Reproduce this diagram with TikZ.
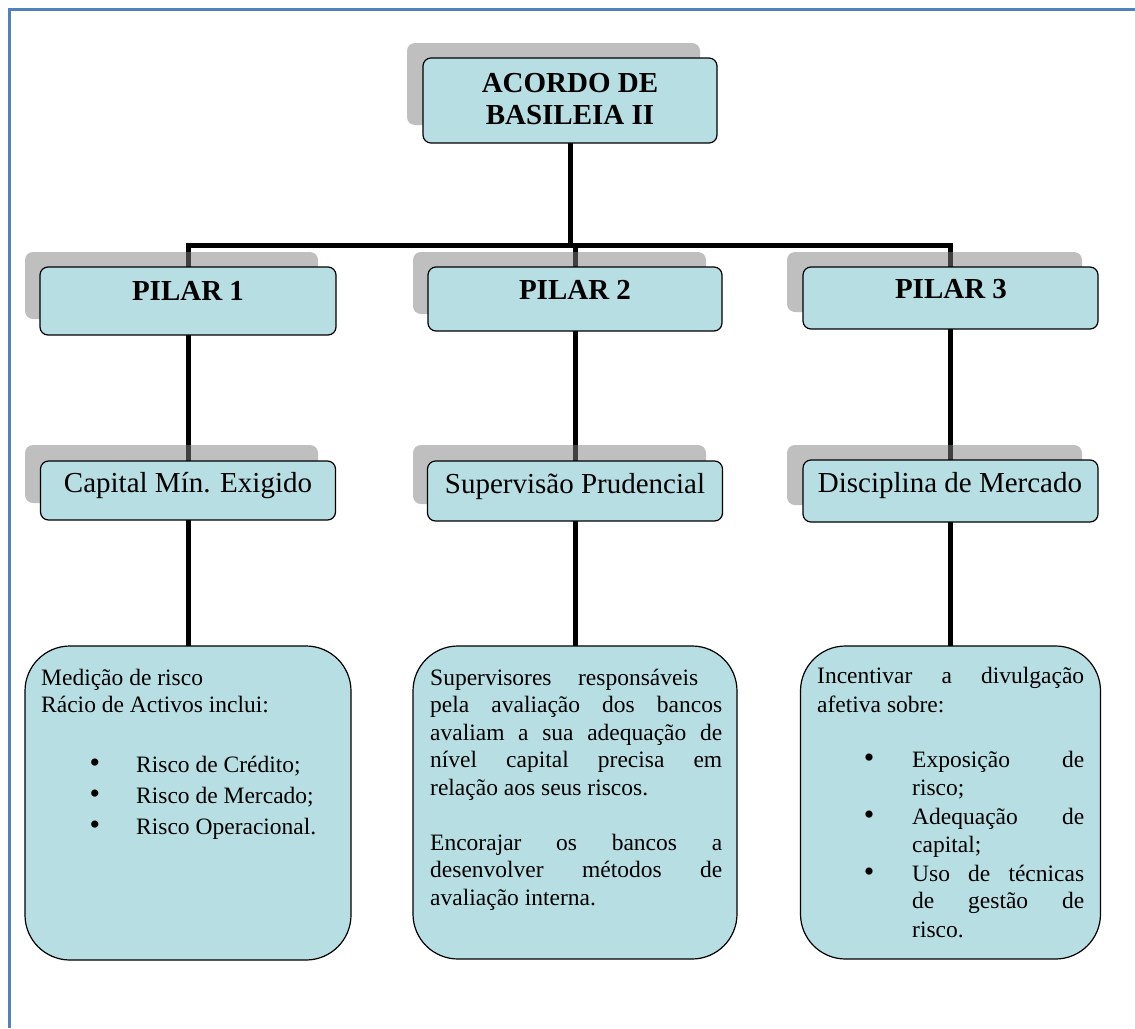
\documentclass[tikz,border=0pt]{standalone}
\usepackage{fontspec}
\setmainfont{Liberation Serif}

% drawing order: connectors, then shadows, then the boxes
\pgfdeclarelayer{wires}
\pgfdeclarelayer{shades}
\pgfsetlayers{wires,shades,main}

\definecolor{boxfill}{RGB}{183,223,227}
\definecolor{frameblue}{RGB}{79,129,189}

\tikzset{
  frame/.style={draw=frameblue, line width=3pt},
  wire/.style={draw=black, line width=5pt},
  box/.style={draw=black, fill=boxfill, line width=1.2pt, rounded corners=8pt, inner sep=0pt},
  bigbox/.style={box, rounded corners=45pt},
  shade/.style={fill=black!50, fill opacity=0.5, rounded corners=8pt, inner sep=0pt},
  head/.style={font=\fontsize{29}{33}\selectfont\bfseries, anchor=base, inner sep=0pt},
  title/.style={font=\fontsize{29}{33}\selectfont, anchor=base, inner sep=0pt},
  txt/.style={font=\fontsize{23.5}{27.5}\selectfont, anchor=base west, inner sep=0pt},
  dot/.style={font=\fontsize{30}{30}\selectfont, anchor=base, inner sep=0pt},
}

\begin{document}
\begin{tikzpicture}[x=1pt, y=-1pt]
\useasboundingbox (0,0) rectangle (1135,1028);

% page frame (top and left edges)
\draw[frame] (9.5,1028) -- (9.5,9.5) -- (1135,9.5);

% ---- boxes ----
\node[box, minimum width=294pt, minimum height=85pt] (top) at (570,100.5) {};

\node[box, minimum width=296pt, minimum height=68pt] (p1) at (188,301) {};
\node[box, minimum width=294pt, minimum height=64pt] (p2) at (575,299) {};
\node[box, minimum width=295pt, minimum height=62pt] (p3) at (950.5,298) {};

\node[box, minimum width=295pt, minimum height=59pt] (c1) at (188,490.5) {};
\node[box, minimum width=295pt, minimum height=60pt] (c2) at (575,491) {};
\node[box, minimum width=295pt, minimum height=62pt] (c3) at (950.5,491) {};

\node[bigbox, minimum width=326pt, minimum height=314pt] (b1) at (188,803) {};
\node[bigbox, minimum width=324pt, minimum height=313pt] (b2) at (575,802.5) {};
\node[bigbox, minimum width=300pt, minimum height=313pt] (b3) at (950.5,802.5) {};

% ---- shadows ----
\begin{pgfonlayer}{shades}
\node[shade, minimum width=293pt, minimum height=82pt] (tops) at (553.5,84) {};
\node[shade, minimum width=293pt, minimum height=67pt] (p1s) at (171.5,285.5) {};
\node[shade, minimum width=293pt, minimum height=62pt] (p2s) at (559.5,283) {};
\node[shade, minimum width=295pt, minimum height=60pt] (p3s) at (934.5,282) {};
\node[shade, minimum width=293pt, minimum height=58pt] (c1s) at (171.5,474) {};
\node[shade, minimum width=293pt, minimum height=59pt] (c2s) at (559.5,474.5) {};
\node[shade, minimum width=295pt, minimum height=60pt] (c3s) at (934.5,475) {};
\end{pgfonlayer}

% ---- connectors ----
\coordinate (bar) at (570,245);
\begin{pgfonlayer}{wires}
\draw[wire] (top.center) -- (bar);
\draw[wire] (p1.center) |- (bar) -| (p3.center);
\draw[wire] (p2.center) -- (p2.center |- bar);
\draw[wire] (p1.center) -- (c1.center) -- (b1.center);
\draw[wire] (p2.center) -- (c2.center) -- (b2.center);
\draw[wire] (p3.center) -- (c3.center) -- (b3.center);
\end{pgfonlayer}

% ---- headings ----
\node[head] (topa) at (570,92) {ACORDO DE};
\node[head] (topb) at (570,124) {BASILEIA II};
\node[head] (p1t) at (188,300) {PILAR 1};
\node[head] (p2t) at (575,299) {PILAR 2};
\node[head] (p3t) at (951,298) {PILAR 3};

\node[title] (c1t) at (188,492) {Capital Mín. Exigido};
\node[title] (c2t) at (575,493) {Supervisão Prudencial};
\node[title] (c3t) at (950,492) {Disciplina de Mercado};

% ---- pillar 1 details ----
\node[txt] (l1) at (41,685) {Medição de risco};
\node[txt] (l2) at (41,712) {Rácio de Activos inclui:};
\node[dot] (l3d) at (95,772) {•};
\node[txt] (l3) at (136,772) {Risco de Crédito;};
\node[dot] (l4d) at (95,803) {•};
\node[txt] (l4) at (136,803) {Risco de Mercado;};
\node[dot] (l5d) at (95,834) {•};
\node[txt] (l5) at (136,834) {Risco Operacional.};

% ---- pillar 2 details ----
\node[txt] (m1) at (430,685)   {\makebox[268pt][s]{Supervisores responsáveis}};
\node[txt] (m2) at (430,712.5) {\makebox[292pt][s]{pela avaliação dos bancos}};
\node[txt] (m3) at (430,740)   {\makebox[292pt][s]{avaliam a sua adequação de}};
\node[txt] (m4) at (430,767.5) {\makebox[292pt][s]{nível capital precisa em}};
\node[txt] (m5) at (430,795)   {relação aos seus riscos.};
\node[txt] (m6) at (430,850)   {\makebox[292pt][s]{Encorajar os bancos a}};
\node[txt] (m7) at (430,877.5) {\makebox[292pt][s]{desenvolver métodos de}};
\node[txt] (m8) at (430,905)   {avaliação interna.};

% ---- pillar 3 details ----
\node[txt] (r1) at (817,683) {\makebox[267pt][s]{Incentivar a divulgação}};
\node[txt] (r2) at (817,712) {afetiva sobre:};
\node[dot] (r3d) at (869,767) {•};
\node[txt] (r3) at (912,767) {\makebox[172pt][s]{Exposição de}};
\node[txt] (r4) at (912,795) {risco;};
\node[dot] (r5d) at (869,824) {•};
\node[txt] (r5) at (912,824) {\makebox[172pt][s]{Adequação de}};
\node[txt] (r6) at (912,852) {capital;};
\node[dot] (r7d) at (869,881) {•};
\node[txt] (r7) at (912,881) {\makebox[172pt][s]{Uso de técnicas}};
\node[txt] (r8) at (912,908) {\makebox[172pt][s]{de gestão de}};
\node[txt] (r9) at (912,937) {risco.};
\end{tikzpicture}
\end{document}
